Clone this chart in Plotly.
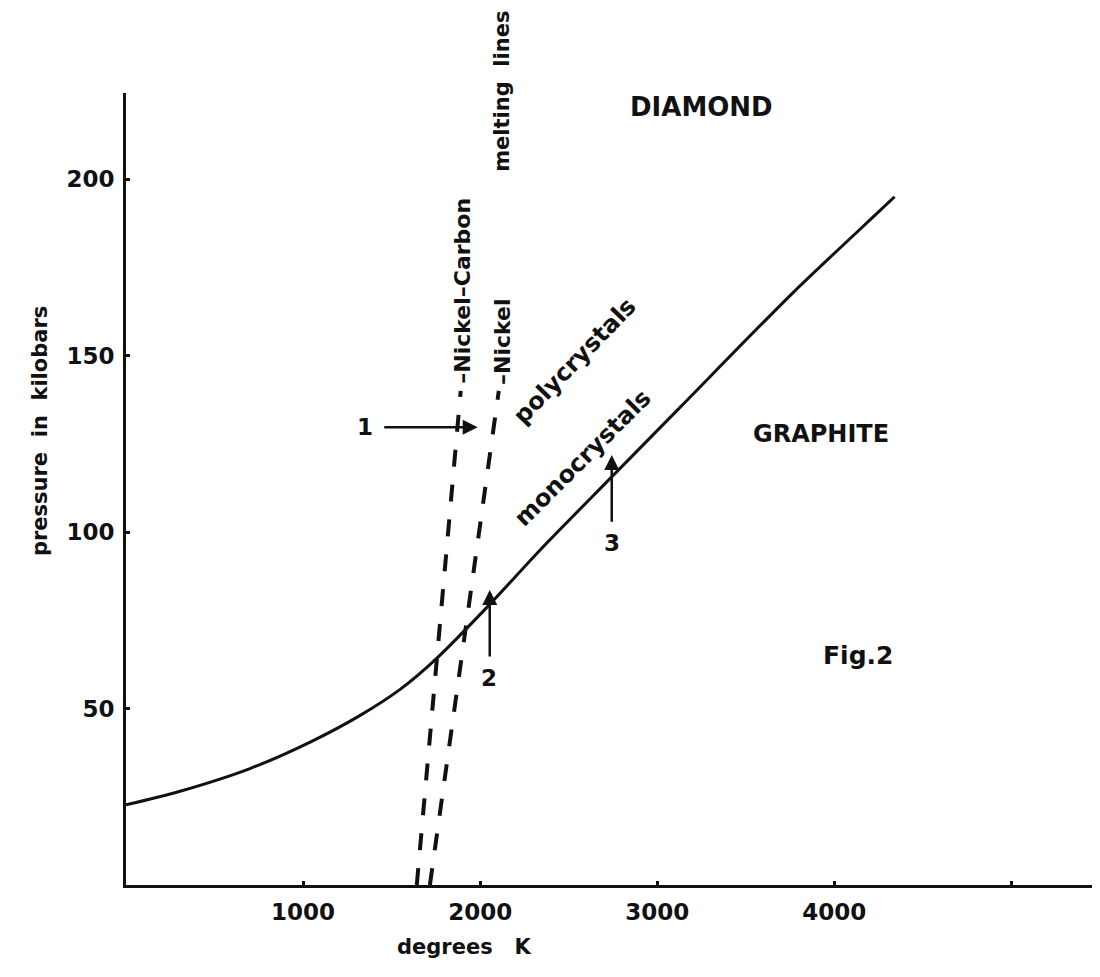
import plotly.graph_objects as go

# Graphite / diamond equilibrium line (degrees K, kilobars)
temp_K = [0, 300, 700, 1040, 1320, 1550, 1750, 2050, 2340, 2740, 3130, 3770, 4260, 4340]
pressure_kbar = [22.7, 26.5, 33, 40.5, 48, 55.5, 64, 79.3, 95, 115.5, 135.4, 168, 191.2, 195]

# Melting lines
ni_c_T = [1642, 1890]
ni_c_P = [0, 140]
ni_T = [1716, 2105]
ni_P = [0, 140]

# Axis ticks
x_ticks = [1000, 2000, 3000, 4000, 5000]
x_tick_labels = ["1000", "2000", "3000", "4000", ""]
y_ticks = [50, 100, 150, 200]
y_tick_labels = ["50", "100", "150", "200"]

# Numbered arrows
arrow_labels = ["1", "2", "3"]
arrow_tail_T = [1450, 2054, 2743]
arrow_tail_P = [129.7, 64.3, 102.5]
arrow_head_T = [1986, 2054, 2743]
arrow_head_P = [129.7, 83.6, 121.8]
arrow_label_T = [1349, 2048, 2743]
arrow_label_P = [129.7, 58.6, 96.9]

FONT = "DejaVu Sans"
INK = "#111111"

fig = go.Figure()
fig.add_trace(go.Scatter(x=temp_K, y=pressure_kbar, mode="lines",
                         line=dict(color=INK, width=3, shape="spline", smoothing=0.8),
                         hoverinfo="skip", showlegend=False))
for tx, py in [(ni_c_T, ni_c_P), (ni_T, ni_P)]:
    fig.add_trace(go.Scatter(x=tx, y=py, mode="lines",
                             line=dict(color=INK, width=4, dash="17px,18px"),
                             hoverinfo="skip", showlegend=False))

def txt(text, x, y, size, angle=0, xref="x", yref="y"):
    fig.add_annotation(text=text, x=x, y=y, xref=xref, yref=yref, showarrow=False,
                       textangle=angle, xanchor="center", yanchor="middle",
                       font=dict(family=FONT, size=size, color=INK, weight="bold"))

for i, lab in enumerate(arrow_labels):
    fig.add_annotation(x=arrow_head_T[i], y=arrow_head_P[i], ax=arrow_tail_T[i], ay=arrow_tail_P[i],
                       xref="x", yref="y", axref="x", ayref="y", text="", showarrow=True,
                       arrowhead=2, arrowsize=1.2, arrowwidth=2.5, arrowcolor=INK, standoff=0)
    txt(lab, arrow_label_T[i], arrow_label_P[i], 23)

txt("DIAMOND", 3251, 220.4, 26)
txt("GRAPHITE", 3922, 127.8, 24)
txt("Fig.2", 4131, 64.9, 25)
txt("polycrystals", 2534, 148.4, 24, angle=-46)
txt("monocrystals", 2579, 121.0, 24, angle=-45)
txt("melting\u00a0\u00a0lines", 2122, 1.0025, 21, angle=-90, yref="paper")
txt("\u2013Nickel\u2013Carbon", 1896, 168.3, 22, angle=-90)
txt("\u2013Nickel", 2122, 154.1, 22, angle=-90)

# axis titles
txt("degrees\u00a0\u00a0\u00a0K", 1913, -0.0783, 21, yref="paper")
txt("pressure\u00a0\u00a0in\u00a0\u00a0kilobars", -0.0883, 128.6, 21, angle=-90, xref="paper")

axis_common = dict(showline=True, linewidth=3, linecolor=INK, showgrid=False, zeroline=False,
                   ticks="inside", ticklen=4, tickwidth=3, tickcolor=INK,
                   tickfont=dict(family=FONT, size=23, color=INK, weight="bold"))

fig.update_xaxes(range=[0, 5500], tickmode="array", tickvals=x_ticks, ticktext=x_tick_labels,
                 ticklabelstandoff=4, **axis_common)
fig.update_yaxes(range=[0, 224.4], tickmode="array", tickvals=y_ticks, ticktext=y_tick_labels,
                 ticklabelstandoff=4, **axis_common)

# page body adds an 8px offset, so the figure is drawn 8px smaller
fig.update_layout(width=1092, height=969, margin=dict(l=118, r=0, t=85, b=92),
                  paper_bgcolor="white", plot_bgcolor="white", showlegend=False,
                  font=dict(family=FONT, color=INK))

fig.write_html("out.html")
